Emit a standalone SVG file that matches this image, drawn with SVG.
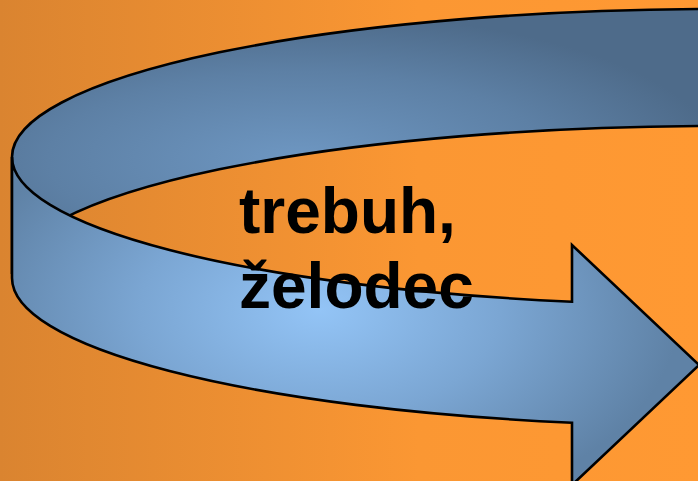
<svg xmlns="http://www.w3.org/2000/svg" width="698" height="481" viewBox="0 0 698 481">
  <defs>
    <linearGradient id="bg" x1="0" y1="0" x2="698" y2="0" gradientUnits="userSpaceOnUse">
      <stop offset="0" stop-color="#DA8430"/>
      <stop offset="0.6" stop-color="#FB9733"/>
      <stop offset="1" stop-color="#FF9933"/>
    </linearGradient>
    <radialGradient id="backGrad" gradientUnits="userSpaceOnUse" cx="300" cy="160" r="420" gradientTransform="translate(300 160) scale(1 0.35) translate(-300 -160)">
      <stop offset="0" stop-color="#6E97C2"/>
      <stop offset="0.6" stop-color="#5D80A5"/>
      <stop offset="1" stop-color="#4E6B8A"/>
    </radialGradient>
    <radialGradient id="frontGrad" gradientUnits="userSpaceOnUse" cx="320" cy="310" r="360" gradientTransform="translate(320 310) scale(1 0.6) translate(-320 -310)">
      <stop offset="0" stop-color="#93C4F6"/>
      <stop offset="0.5" stop-color="#7BA6D3"/>
      <stop offset="1" stop-color="#5F82A6"/>
    </radialGradient>
  </defs>
  <style>
    .band { stroke: #000000; stroke-width: 2.6; stroke-linejoin: miter; }
    .label { font-family: "Liberation Sans", Arial, sans-serif; font-weight: bold; font-size: 64px; fill: #000000; }
  </style>
  <rect id="background" x="0" y="0" width="698" height="481" fill="url(#bg)"/>
  <g id="connectors">
    <g id="circular-arrow">
      <path id="back-band" class="band" fill="url(#backGrad)" d="M 12 157 A 708 148 0 0 1 720 9 L 720 126 A 708 148 0 0 0 12 274 Z"/>
      <path id="front-band" class="band" fill="url(#frontGrad)" d="M 12 157 A 708 148 0 0 0 572 301.7 L 572 245 L 699 365 L 572 485 L 572 422.7 A 708 148 0 0 1 12 278 Z"/>
    </g>
  </g>
  <g id="node-label">
    <text class="label" x="239" y="233">trebuh,</text>
    <text class="label" x="239" y="308">želodec</text>
  </g>
</svg>
